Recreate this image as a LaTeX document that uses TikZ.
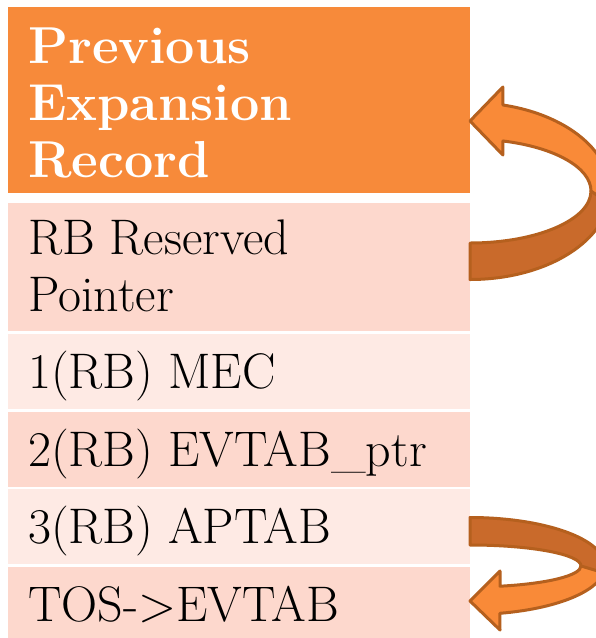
\documentclass[tikz,border=0pt]{standalone}
\usetikzlibrary{calc}

\definecolor{hdrorange}{HTML}{F78A3A}
\definecolor{rowpeach}{HTML}{FDD8CD}
\definecolor{rowpale}{HTML}{FEEAE4}
\definecolor{arrowlight}{HTML}{F98A38}
\definecolor{arrowdark}{HTML}{C96A2B}
\definecolor{arrowedge}{HTML}{B5601E}

\tikzset{
  cell/.style={rectangle, draw=none, anchor=north west, inner sep=0pt,
               outer sep=0pt, minimum width=462pt},
  hdrtext/.style={anchor=north west, inner sep=0pt, align=left, text=white,
                  font=\fontsize{52}{57}\selectfont\bfseries},
  bodytext/.style={anchor=base west, inner sep=0pt, align=left, text=black,
                   font=\fontsize{50}{57}\selectfont},
  tailband/.style={fill=arrowdark, draw=arrowedge, line width=3pt, line join=round},
  headband/.style={fill=arrowlight, draw=arrowedge, line width=3pt, line join=round}
}

\begin{document}
\begin{tikzpicture}[x=1pt, y=-1pt]
  \useasboundingbox (0,0) rectangle (596,638);
  \clip (0,0) rectangle (596,638);
  \fill[white] (0,0) rectangle (596,638);

  % table rows
  \node[cell, fill=hdrorange, minimum height=186pt]   (hdr)  at (8,7)     {};
  \node[cell, fill=rowpeach,  minimum height=128pt]   (rowA) at (8,202.5) {};
  \node[cell, fill=rowpale,   minimum height=75.5pt]  (rowB) at (8,333.5) {};
  \node[cell, fill=rowpeach,  minimum height=75.5pt]  (rowC) at (8,411.5) {};
  \node[cell, fill=rowpale,   minimum height=75pt]    (rowD) at (8,489)   {};
  \node[cell, fill=rowpeach,  minimum height=75pt]    (rowE) at (8,567)   {};

  % row labels (multi-line labels are anchored on their last baseline)
  \node[hdrtext]  (thdr) at (28,27.3) {Previous\\Expansion\\Record};
  \node[bodytext] (tA)   at (28,311)  {RB Reserved\\Pointer};
  \node[bodytext] (tB)   at (28,388)  {1(RB) MEC};
  \node[bodytext] (tC)   at (28,466)  {2(RB) EVTAB\_ptr};
  \node[bodytext] (tD)   at (28,543)  {3(RB) APTAB};
  \node[bodytext] (tE)   at (28,621)  {TOS->EVTAB};

  % curved arrow: reserved pointer back to the previous record
  \coordinate (loopA) at (470,191);
  \begin{scope}[shift={(loopA)}]
    \path[tailband] (0,52)
      arc[start angle=90, end angle=0, x radius=121, y radius=52]
      -- (140,0)
      arc[start angle=0, end angle=90, x radius=140, y radius=88.5] -- cycle;
    \path[headband] (32.9,-86)
      arc[start angle=-76.4, end angle=8, x radius=140, y radius=88.5]
      -- (121,0)
      arc[start angle=0, end angle=-74.2, x radius=121, y radius=52]
      -- (32.9,-36) -- (0,-70) -- (32.9,-104) -- cycle;
  \end{scope}

  % curved arrow: APTAB entry down to the top of stack
  \coordinate (loopB) at (470,566);
  \begin{scope}[shift={(loopB)}]
    \path[headband] (30,20.2)
      arc[start angle=74.3, end angle=0, x radius=111, y radius=21]
      -- (135,0)
      arc[start angle=0, end angle=77.2, x radius=135, y radius=48.5]
      -- (30,64) -- (0,35) -- (30,5) -- cycle;
    \path[tailband] (0,-48.5)
      arc[start angle=-90, end angle=8, x radius=135, y radius=48.5]
      -- (111,0)
      arc[start angle=0, end angle=-90, x radius=111, y radius=21] -- cycle;
  \end{scope}
\end{tikzpicture}
\end{document}
